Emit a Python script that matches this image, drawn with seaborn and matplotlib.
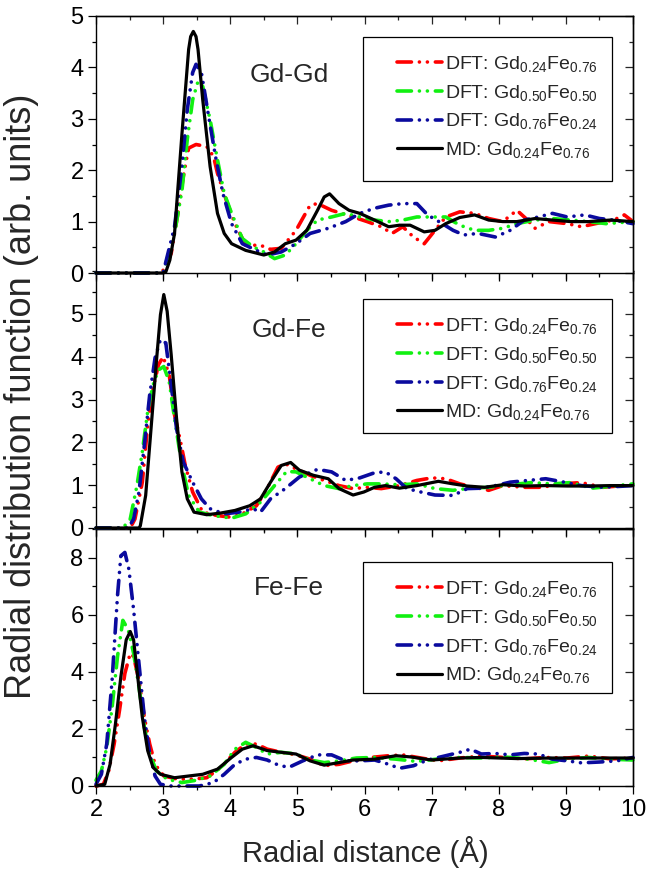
import numpy as np
import pandas as pd
import matplotlib
matplotlib.use("Agg")
import matplotlib.pyplot as plt
import seaborn as sns
from matplotlib.ticker import MultipleLocator, FixedLocator
from matplotlib.patches import Rectangle
from matplotlib.lines import Line2D

# ---- Gd-Gd ----
gdgd_md_x = [2.0, 3.0, 3.04, 3.10, 3.17, 3.28, 3.38, 3.41, 3.45, 3.49, 3.52, 3.59, 3.70, 3.81, 3.91, 4.02, 4.23, 4.50,
             4.66, 4.82, 4.98, 5.14, 5.30, 5.40, 5.48, 5.62, 5.77, 5.93, 6.15, 6.36, 6.52, 6.68, 6.89, 7.05, 7.21,
             7.42, 7.64, 7.85, 8.06, 8.27, 8.54, 8.80, 9.07, 9.34, 9.66, 10.0]
gdgd_md_y = [0, 0, 0.02, 0.25, 0.77, 2.7, 4.35, 4.6, 4.7, 4.6, 4.35, 3.37, 2.07, 1.16, 0.77, 0.57, 0.44, 0.35,
             0.41, 0.57, 0.64, 0.83, 1.22, 1.48, 1.54, 1.35, 1.22, 1.16, 1.03, 0.9, 0.93, 0.93, 0.8, 0.83, 0.96,
             1.08, 1.13, 1.03, 1.0, 1.0, 1.06, 1.03, 1.0, 1.0, 1.03, 1.0]
gdgd_r_x = [2.0, 2.98, 3.12, 3.22, 3.30, 3.38, 3.49, 3.65, 3.75, 3.81, 3.94, 4.07, 4.23, 4.45, 4.60, 4.76, 4.98,
            5.19, 5.30, 5.51, 5.83, 6.04, 6.25, 6.41, 6.57, 6.73, 6.89, 7.05, 7.21, 7.42, 7.64, 7.85, 8.06, 8.27,
            8.43, 8.54, 8.75, 9.02, 9.23, 9.44, 9.71, 9.87, 10.0]
gdgd_r_y = [0, 0, 0.38, 1.16, 1.87, 2.43, 2.5, 2.46, 2.27, 1.94, 1.42, 0.96, 0.54, 0.54, 0.46, 0.48, 0.83,
            1.32, 1.35, 1.22, 1.09, 1.0, 0.9, 0.77, 0.9, 0.7, 0.57, 0.83, 1.09, 1.19, 1.16, 1.06, 1.0, 1.22,
            1.03, 0.87, 1.0, 0.96, 0.9, 0.96, 1.03, 1.13, 1.0]
gdgd_g_x = [2.0, 3.0, 3.17, 3.28, 3.36, 3.44, 3.52, 3.59, 3.70, 3.81, 3.91, 4.02, 4.18, 4.34, 4.50, 4.66, 4.82,
            4.98, 5.14, 5.30, 5.51, 5.72, 5.93, 6.15, 6.36, 6.57, 6.78, 7.00, 7.21, 7.42, 7.64, 7.85, 8.06, 8.27,
            8.54, 8.80, 9.07, 9.34, 9.60, 10.0]
gdgd_g_y = [0, 0, 0.77, 1.6, 2.6, 3.37, 3.73, 3.63, 2.98, 2.2, 1.55, 1.16, 0.67, 0.51, 0.41, 0.28, 0.35,
            0.57, 0.83, 1.03, 1.09, 1.16, 1.09, 1.03, 1.0, 1.03, 1.09, 1.09, 1.09, 0.93, 0.83, 0.83, 0.87, 0.96,
            1.03, 1.06, 1.03, 1.0, 0.96, 1.0]
gdgd_b_x = [2.0, 3.0, 3.17, 3.28, 3.36, 3.44, 3.49, 3.57, 3.67, 3.78, 3.89, 4.02, 4.18, 4.39, 4.55, 4.76, 4.98,
            5.19, 5.46, 5.72, 5.93, 6.15, 6.36, 6.57, 6.78, 6.94, 7.16, 7.32, 7.48, 7.69, 7.95, 8.17, 8.38, 8.59,
            8.80, 9.02, 9.28, 9.50, 9.71, 10.0]
gdgd_b_y = [0, 0, 0.9, 2.07, 3.18, 3.9, 4.06, 3.9, 3.11, 2.27, 1.55, 0.96, 0.57, 0.44, 0.35, 0.41, 0.57,
            0.77, 0.87, 1.0, 1.16, 1.26, 1.32, 1.35, 1.35, 1.13, 0.96, 0.83, 0.74, 0.77, 0.7, 0.83, 1.03, 1.09,
            1.16, 1.09, 1.13, 1.06, 1.03, 0.96]

# ---- Gd-Fe ----
gdfe_md_x = [2.0, 2.64, 2.66, 2.74, 2.82, 2.90, 2.96, 3.01, 3.06, 3.12, 3.20, 3.28, 3.36, 3.46, 3.65, 3.86, 4.07,
             4.29, 4.45, 4.60, 4.76, 4.90, 5.03, 5.24, 5.46, 5.62, 5.83, 5.99, 6.15, 6.31, 6.52, 6.78, 7.10, 7.32,
             7.53, 7.79, 8.06, 8.38, 8.70, 9.02, 9.34, 9.66, 10.0]
gdfe_md_y = [0, 0, 0.05, 0.76, 2.32, 3.89, 4.98, 5.45, 5.06, 4.05, 2.56, 1.31, 0.68, 0.37, 0.31, 0.35, 0.41,
             0.52, 0.68, 1.07, 1.46, 1.53, 1.35, 1.23, 1.15, 0.92, 0.77, 0.84, 0.95, 0.99, 0.93, 0.99, 1.09, 1.03,
             0.98, 0.95, 1.01, 0.98, 0.99, 0.98, 0.98, 0.99, 0.99]
gdfe_r_x = [2.0, 2.51, 2.58, 2.69, 2.77, 2.85, 2.93, 3.00, 3.09, 3.17, 3.25, 3.33, 3.44, 3.59, 3.81, 4.02, 4.18,
            4.39, 4.55, 4.71, 4.82, 4.98, 5.19, 5.40, 5.62, 5.83, 6.04, 6.25, 6.52, 6.78, 7.00, 7.21, 7.42, 7.64,
            7.85, 8.06, 8.38, 8.65, 8.91, 9.23, 9.55, 10.0]
gdfe_r_y = [0, 0, 0.21, 1.07, 2.4, 3.26, 3.81, 4.0, 3.58, 2.64, 2.09, 1.46, 0.84, 0.37, 0.29, 0.25, 0.33,
            0.52, 0.92, 1.42, 1.5, 1.38, 1.23, 1.11, 0.99, 0.92, 0.95, 0.92, 0.99, 1.11, 1.17, 1.15, 1.03, 0.95,
            0.88, 0.99, 0.95, 0.95, 1.03, 1.06, 0.95, 1.01]
gdfe_g_x = [2.0, 2.40, 2.51, 2.61, 2.69, 2.77, 2.85, 2.93, 3.01, 3.09, 3.17, 3.28, 3.38, 3.54, 3.75, 4.02, 4.23,
            4.45, 4.66, 4.84, 4.98, 5.19, 5.40, 5.62, 5.83, 6.04, 6.25, 6.52, 6.78, 7.05, 7.32, 7.58, 7.85, 8.17,
            8.48, 8.80, 9.07, 9.39, 9.71, 10.0]
gdfe_g_y = [0, 0, 0.21, 0.99, 1.78, 2.72, 3.34, 3.69, 3.77, 3.42, 2.56, 1.46, 0.76, 0.37, 0.29, 0.23, 0.33,
            0.6, 0.99, 1.32, 1.31, 1.15, 0.99, 0.92, 0.99, 1.03, 1.03, 1.01, 1.03, 0.92, 0.88, 0.93, 0.95, 1.01,
            1.06, 1.03, 1.06, 0.93, 0.98, 1.03]
gdfe_b_x = [2.0, 2.48, 2.56, 2.64, 2.72, 2.80, 2.88, 2.96, 3.04, 3.12, 3.20, 3.30, 3.44, 3.57, 3.70, 3.91, 4.13,
            4.34, 4.45, 4.60, 4.82, 5.03, 5.30, 5.51, 5.72, 5.93, 6.15, 6.31, 6.47, 6.63, 6.84, 7.05, 7.32, 7.53,
            7.74, 7.95, 8.17, 8.43, 8.70, 8.91, 9.23, 9.55, 10.0]
gdfe_b_y = [0, 0, 0.21, 0.84, 1.93, 3.11, 3.97, 4.4, 4.32, 3.34, 2.32, 1.54, 1.07, 0.68, 0.45, 0.33, 0.37,
            0.45, 0.37, 0.68, 0.92, 1.19, 1.37, 1.31, 1.11, 1.17, 1.29, 1.31, 1.15, 0.92, 0.84, 0.77, 0.76, 0.92,
            0.93, 0.99, 1.07, 1.11, 1.15, 1.09, 0.99, 0.95, 0.99]

# ---- Fe-Fe ----
fefe_md_x = [2.0, 2.13, 2.21, 2.29, 2.37, 2.45, 2.51, 2.56, 2.61, 2.69, 2.77, 2.85, 2.96, 3.17, 3.38, 3.59, 3.81,
             4.02, 4.18, 4.34, 4.55, 4.76, 4.98, 5.19, 5.40, 5.62, 5.83, 6.15, 6.47, 6.68, 7.00, 7.42, 7.74, 8.27,
             8.80, 9.34, 10.0]
fefe_md_y = [0, 0.06, 0.76, 2.18, 3.82, 5.12, 5.41, 5.12, 4.06, 2.41, 1.24, 0.65, 0.41, 0.29, 0.35, 0.41, 0.59,
             1.0, 1.29, 1.41, 1.24, 1.18, 1.12, 0.88, 0.73, 0.82, 0.91, 0.94, 1.06, 1.02, 0.91, 0.98, 1.0, 0.96,
             0.98, 0.98, 0.98]
fefe_r_x = [2.0, 2.11, 2.19, 2.27, 2.35, 2.43, 2.51, 2.56, 2.64, 2.72, 2.80, 2.88, 3.01, 3.22, 3.44, 3.65, 3.86,
            4.07, 4.23, 4.39, 4.55, 4.76, 4.98, 5.19, 5.40, 5.62, 5.83, 6.09, 6.36, 6.57, 6.84, 7.10, 7.42, 7.74,
            8.06, 8.38, 8.70, 9.02, 9.34, 9.66, 10.0]
fefe_r_y = [0, 0.06, 0.53, 1.47, 2.65, 3.94, 4.65, 4.53, 3.71, 2.41, 1.47, 0.76, 0.35, 0.24, 0.24, 0.29, 0.65,
            1.18, 1.47, 1.47, 1.29, 1.18, 1.09, 0.94, 0.71, 0.76, 0.88, 1.0, 1.06, 1.09, 0.98, 0.88, 0.98, 1.05,
            1.0, 0.95, 1.0, 0.98, 1.05, 0.95, 0.98]
fefe_g_x = [2.0, 2.08, 2.16, 2.24, 2.32, 2.40, 2.48, 2.56, 2.64, 2.72, 2.80, 2.90, 3.06, 3.28, 3.49, 3.70, 3.91,
            4.07, 4.23, 4.39, 4.55, 4.76, 4.98, 5.19, 5.40, 5.62, 5.88, 6.15, 6.47, 6.78, 7.10, 7.42, 7.74, 8.06,
            8.38, 8.75, 9.02, 9.34, 9.66, 10.0]
fefe_g_y = [0.2, 0.53, 1.35, 2.76, 4.53, 5.8, 5.47, 4.65, 3.47, 2.06, 1.12, 0.53, 0.24, 0.12, 0.2, 0.35, 0.76,
            1.29, 1.53, 1.35, 1.12, 1.18, 1.12, 0.91, 0.82, 0.88, 0.98, 1.0, 0.94, 0.86, 0.95, 1.0, 0.98, 1.02,
            0.96, 0.82, 0.94, 1.0, 0.94, 0.91]
fefe_b_x = [2.0, 2.08, 2.16, 2.24, 2.32, 2.37, 2.43, 2.49, 2.56, 2.64, 2.72, 2.80, 2.88, 2.96, 3.12, 3.33, 3.54,
            3.75, 3.91, 4.07, 4.23, 4.39, 4.55, 4.71, 4.87, 5.08, 5.30, 5.51, 5.72, 5.93, 6.15, 6.36, 6.52, 6.73,
            6.94, 7.21, 7.42, 7.58, 7.74, 7.95, 8.17, 8.38, 8.59, 8.80, 9.02, 9.23, 9.50, 9.76, 10.0]
fefe_b_y = [0.06, 0.41, 1.47, 3.71, 6.65, 8.06, 8.18, 7.59, 6.18, 4.29, 2.41, 1.12, 0.35, 0.06, 0, 0, 0,
            0.12, 0.41, 0.76, 0.94, 1.0, 0.91, 0.74, 0.65, 0.88, 1.09, 1.09, 0.88, 0.88, 0.91, 0.76, 0.62, 0.71,
            0.91, 1.06, 1.18, 1.29, 1.12, 1.14, 1.09, 1.14, 1.12, 0.94, 0.88, 0.81, 0.84, 0.88, 1.0]

labels = [r"DFT: Gd$_{\mathregular{0.24}}$Fe$_{\mathregular{0.76}}$",
          r"DFT: Gd$_{\mathregular{0.50}}$Fe$_{\mathregular{0.50}}$",
          r"DFT: Gd$_{\mathregular{0.76}}$Fe$_{\mathregular{0.24}}$",
          r"MD: Gd$_{\mathregular{0.24}}$Fe$_{\mathregular{0.76}}$"]
colors = ["#ff0000", "#11f011", "#0a0a9e", "#000000"]

panels = [
    ("Gd-Gd", [(gdgd_r_x, gdgd_r_y), (gdgd_g_x, gdgd_g_y), (gdgd_b_x, gdgd_b_y), (gdgd_md_x, gdgd_md_y)],
     5, [0, 1, 2, 3, 4, 5], 0.5, (0.918, 0.358)),
    ("Gd-Fe", [(gdfe_r_x, gdfe_r_y), (gdfe_g_x, gdfe_g_y), (gdfe_b_x, gdfe_b_y), (gdfe_md_x, gdfe_md_y)],
     6, [0, 1, 2, 3, 4, 5], 0.5, (0.89, 0.37)),
    ("Fe-Fe", [(fefe_r_x, fefe_r_y), (fefe_g_x, fefe_g_y), (fefe_b_x, fefe_b_y), (fefe_md_x, fefe_md_y)],
     9, [0, 2, 4, 6, 8], 1, (0.87, 0.36)),
]

sns.set_theme(style="ticks")
plt.rcParams["font.family"] = ["Liberation Sans", "DejaVu Sans"]
plt.rcParams["mathtext.fontset"] = "custom"
plt.rcParams["mathtext.rm"] = "Liberation Sans"
plt.rcParams["mathtext.it"] = "Liberation Sans:italic"
plt.rcParams["axes.linewidth"] = 1.0

dashdotdot = (0, (4, 2.2, 0.01, 2.2, 0.01, 2.2))

fig = plt.figure(figsize=(6.5, 8.77), dpi=100)
left, width, height = 96 / 650, 537 / 650, 257 / 877
bottoms = [(877 - 273) / 877, (877 - 528) / 877, (877 - 786) / 877]

for k_panel, ((name, series, ymax, yt, yminor, box), bot) in enumerate(zip(panels, bottoms)):
    ax = fig.add_axes([left, bot, width, height])
    ax.set_zorder(3 - k_panel)
    for i, (xs, ys) in enumerate(series):
        df = pd.DataFrame({"r": xs, "g": ys})
        if i < 3:
            sns.lineplot(data=df, x="r", y="g", ax=ax, color=colors[i], linewidth=2.6,
                         linestyle=dashdotdot, dash_capstyle="round", estimator=None, sort=False,
                         clip_on=False)
        else:
            sns.lineplot(data=df, x="r", y="g", ax=ax, color=colors[i], linewidth=2.3,
                         estimator=None, sort=False, clip_on=False)
    ax.set_xlim(2, 10)
    ax.set_ylim(0, ymax)
    ax.set_xlabel("")
    ax.set_ylabel("")
    ax.xaxis.set_major_locator(MultipleLocator(1))
    ax.xaxis.set_minor_locator(MultipleLocator(0.5))
    ax.yaxis.set_major_locator(FixedLocator(yt))
    ax.yaxis.set_minor_locator(MultipleLocator(yminor))
    ax.tick_params(which="both", direction="out", colors="black", width=0.9, labelsize=17, pad=3)
    ax.tick_params(which="major", length=6)
    ax.tick_params(which="minor", length=3)
    if bot != bottoms[-1]:
        ax.tick_params(axis="x", labelbottom=False)
    for sp in ax.spines.values():
        sp.set_visible(True)
        sp.set_color("black")

    sx = ax.secondary_xaxis("top")
    sx.xaxis.set_major_locator(MultipleLocator(1))
    sx.xaxis.set_minor_locator(MultipleLocator(0.5))
    sx.tick_params(which="both", direction="in", labeltop=False, width=0.9)
    sx.tick_params(which="major", length=6)
    sx.tick_params(which="minor", length=3)
    sy = ax.secondary_yaxis("right")
    sy.yaxis.set_major_locator(FixedLocator(yt))
    sy.yaxis.set_minor_locator(MultipleLocator(yminor))
    sy.tick_params(which="both", direction="in", labelright=False, width=0.9)
    sy.tick_params(which="major", length=6)
    sy.tick_params(which="minor", length=3)

    ax.text(0.36, 0.77, name, transform=ax.transAxes, ha="center", va="center", fontsize=19)

    top, btm = box
    ax.add_patch(Rectangle((0.497, btm), 0.464, top - btm, transform=ax.transAxes,
                           fill=False, edgecolor="black", linewidth=0.9, zorder=5))
    handles = [Line2D([], [], color=colors[k], linewidth=2.6, linestyle=dashdotdot,
                      dash_capstyle="round") for k in range(3)]
    handles.append(Line2D([], [], color="black", linewidth=2.3))
    ax.legend(handles, labels, loc="upper left", bbox_to_anchor=(0.553, top - 0.05),
              frameon=False, fontsize=14, handlelength=2.3, handletextpad=0.2,
              labelspacing=0.45, borderpad=0.2, borderaxespad=0)

fig.text(0.033, 0.548, "Radial distribution function (arb. units)", rotation=90,
         ha="center", va="center", fontsize=26)
fig.text(0.562, 0.029, "Radial distance (\u00c5)", ha="center", va="center", fontsize=21)

fig.savefig("out.png", dpi=100)
